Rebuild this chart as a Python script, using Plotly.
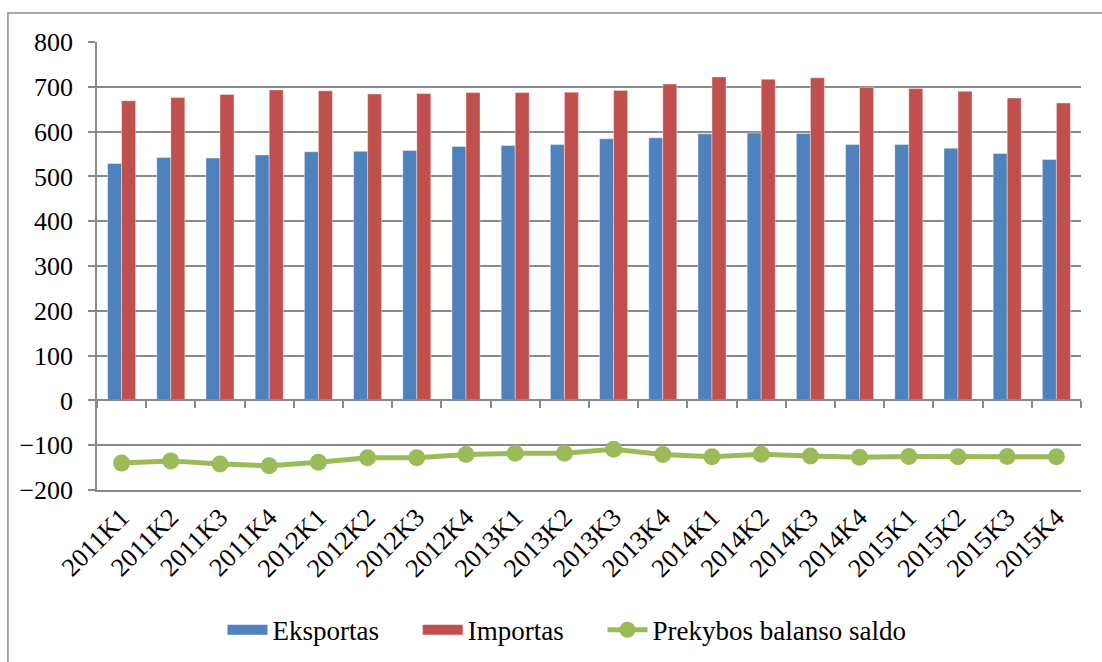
import plotly.graph_objects as go

# Quarterly foreign trade, 2011–2015
quarters = [
    "2011K1", "2011K2", "2011K3", "2011K4",
    "2012K1", "2012K2", "2012K3", "2012K4",
    "2013K1", "2013K2", "2013K3", "2013K4",
    "2014K1", "2014K2", "2014K3", "2014K4",
    "2015K1", "2015K2", "2015K3", "2015K4",
]
eksportas = [529, 542, 541, 548, 555, 556, 558, 567, 569, 571,
             584, 586, 595, 597, 596, 571, 571, 563, 551, 538]
importas = [669, 676, 683, 693, 691, 684, 685, 687, 687, 688,
            692, 706, 722, 717, 720, 699, 696, 690, 675, 664]
saldo = [-140, -135, -142, -146, -138, -128, -128, -121, -118, -118,
         -109, -121, -126, -120, -124, -127, -125, -126, -125, -126]
y_ticks = [-200, -100, 0, 100, 200, 300, 400, 500, 600, 700, 800]

BLUE = "#4F81BD"
RED = "#C0504D"
GREEN = "#9BBB59"
GRID = "#8a8a8a"
FONT = "Times New Roman, Liberation Serif, DejaVu Serif, serif"
empty = [None] * len(quarters)
PAD = "\u00a0" * 5  # spacing after a legend entry

fig = go.Figure()
fig.add_trace(go.Bar(
    x=quarters, y=eksportas, name="Eksportas", showlegend=False,
    marker=dict(color=BLUE, line=dict(color="rgba(255,255,255,0.5)", width=0.8)),
))
fig.add_trace(go.Bar(
    x=quarters, y=importas, name="Importas", showlegend=False,
    marker=dict(color=RED, line=dict(color="rgba(255,255,255,0.5)", width=0.8)),
))
fig.add_trace(go.Scatter(
    x=quarters, y=saldo, name="Prekybos balanso saldo", showlegend=False,
    mode="lines+markers",
    line=dict(color=GREEN, width=5),
    marker=dict(color=GREEN, size=17),
))

# legend keys: wide colour bands for the bar series, line+dot for the balance
fig.add_trace(go.Scatter(x=quarters, y=empty, name="Eksportas" + PAD, mode="lines",
                         line=dict(color=BLUE, width=15), hoverinfo="skip"))
fig.add_trace(go.Scatter(x=quarters, y=empty, name="Importas" + PAD, mode="lines",
                         line=dict(color=RED, width=15), hoverinfo="skip"))
fig.add_trace(go.Scatter(x=quarters, y=empty, name="Prekybos balanso saldo",
                         mode="lines+markers",
                         line=dict(color=GREEN, width=5),
                         marker=dict(color=GREEN, size=17), hoverinfo="skip"))

# helper trace so the zero-level category axis (with boundary ticks) is built
fig.add_trace(go.Scatter(
    x=quarters, y=empty, xaxis="x2",
    showlegend=False, hoverinfo="skip", mode="lines",
))

fig.update_layout(
    width=1102, height=662,
    margin=dict(l=97, r=21, t=42, b=172, autoexpand=False),
    paper_bgcolor="white", plot_bgcolor="white",
    font=dict(family=FONT, color="black"),
    barmode="group", bargap=0.43, bargroupgap=0,
    showlegend=True,
    legend=dict(
        orientation="h", xref="container", x=0.5145, xanchor="center",
        yref="container", y=0.048, yanchor="middle",
        font=dict(family=FONT, size=27), itemwidth=40,
        traceorder="normal", tracegroupgap=0,
    ),
    xaxis=dict(
        type="category", categoryorder="array", categoryarray=quarters,
        range=[-0.5, len(quarters) - 0.5],
        showgrid=False, zeroline=False, automargin=False,
        showline=True, linecolor=GRID, linewidth=1.5,
        ticks="", tickangle=-45,
        tickfont=dict(family=FONT, size=26),
    ),
    xaxis2=dict(
        type="category", categoryorder="array", categoryarray=quarters,
        overlaying="x", anchor="free", position=0.2, side="bottom",
        range=[-0.5, len(quarters) - 0.5],
        showgrid=False, zeroline=False,
        showline=True, linecolor=GRID, linewidth=1.5,
        ticks="outside", tickson="boundaries", ticklen=7,
        tickcolor=GRID, tickwidth=1.5,
        showticklabels=False,
    ),
    yaxis=dict(
        range=[-200, 800], tickmode="array", tickvals=y_ticks,
        showgrid=True, gridcolor=GRID, gridwidth=1.5,
        zeroline=False, automargin=False,
        showline=True, linecolor=GRID, linewidth=1.5,
        ticks="outside", ticklen=7, tickcolor=GRID, tickwidth=1.5,
        tickfont=dict(family=FONT, size=26),
        ticklabelstandoff=10,
    ),
    shapes=[
        # outer chart frame
        dict(type="rect", xref="paper", yref="paper",
             x0=-0.0905, x1=1.2, y0=-0.6, y1=1.0647,
             line=dict(color=GRID, width=1.5), layer="below"),
    ],
)

fig.write_html("out.html")
